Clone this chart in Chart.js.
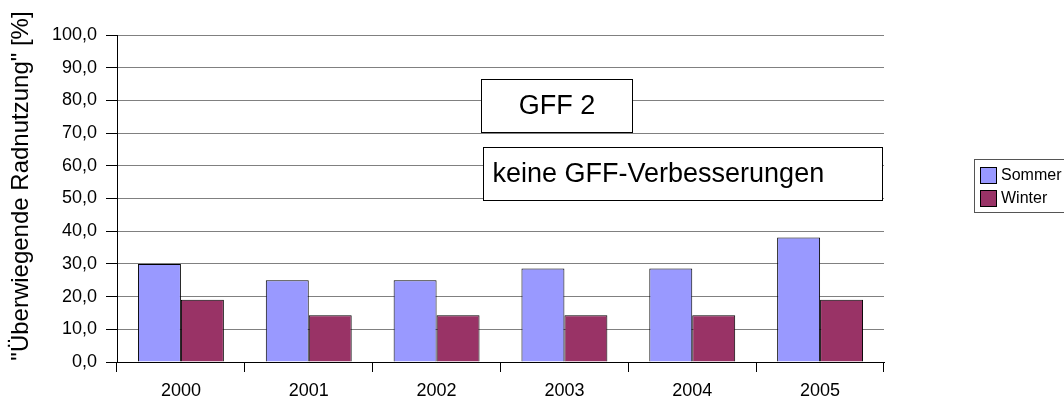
<!DOCTYPE html>
<html>
<head>
<meta charset="utf-8">
<script src="https://cdn.jsdelivr.net/npm/chart.js@4"></script>
<style>
  html, body { margin: 0; padding: 0; background: #fff; }
  #wrap { width: 1064px; height: 404px; }
</style>
</head>
<body>
<div id="wrap"><canvas id="chart" width="1064" height="404"></canvas></div>
<script>
const years = ["2000", "2001", "2002", "2003", "2004", "2005"];
const sommer = [30.0, 25.0, 25.0, 28.6, 28.6, 38.1];
const winter = [19.0, 14.3, 14.3, 14.3, 14.3, 19.0];
const seriesNames = ["Sommer", "Winter"];
const yTicks = [0, 10, 20, 30, 40, 50, 60, 70, 80, 90, 100];
const yTitle = '"Überwiegende Radnutzung" [%]';
const notes = ["GFF 2", "keine GFF-Verbesserungen"];

const FONT = "'Liberation Sans', Arial, sans-serif";

// text boxes, y title and legend drawn on top
const extras = {
  id: "extras",
  afterDraw(chart) {
    const { ctx, scales: { x, y } } = chart;
    ctx.save();

    // y axis title
    ctx.save();
    ctx.translate(21, 186);
    ctx.rotate(-Math.PI / 2);
    ctx.font = "24px " + FONT;
    ctx.fillStyle = "#000";
    ctx.textAlign = "center";
    ctx.textBaseline = "middle";
    ctx.fillText(yTitle, 0, 0);
    ctx.restore();

    // note boxes
    const box = (x0, x1, v0, v1, text, align) => {
      const l = Math.round(x.getPixelForValue(x0)) + 0.5;
      const r = Math.round(x.getPixelForValue(x1)) + 0.5;
      const t = Math.round(y.getPixelForValue(v0)) + 0.5;
      const b = Math.round(y.getPixelForValue(v1)) + 0.5;
      ctx.fillStyle = "#fff";
      ctx.fillRect(l, t, r - l, b - t);
      ctx.strokeStyle = "#000";
      ctx.lineWidth = 1;
      ctx.strokeRect(l, t, r - l, b - t);
      ctx.fillStyle = "#000";
      ctx.font = "27px " + FONT;
      ctx.textBaseline = "middle";
      if (align === "center") {
        ctx.textAlign = "center";
        ctx.fillText(text, (l + r) / 2, (t + b) / 2 + 1);
      } else {
        ctx.textAlign = "left";
        ctx.fillText(text, l + 9, (t + b) / 2 + 1);
      }
    };
    box(2.346, 3.532, 86.5, 70.3, notes[0], "center");
    box(2.362, 5.483, 65.8, 49.5, notes[1], "left");

    // legend
    ctx.strokeStyle = "#555";
    ctx.lineWidth = 1;
    ctx.strokeRect(974.5, 159.5, 100, 53);
    chart.data.datasets.forEach((ds, i) => {
      const sy = 167 + i * 23;
      ctx.fillStyle = ds.backgroundColor;
      ctx.fillRect(980.5, sy + 0.5, 16, 16);
      ctx.strokeStyle = "#000";
      ctx.strokeRect(980.5, sy + 0.5, 16, 16);
      ctx.fillStyle = "#000";
      ctx.font = "16px " + FONT;
      ctx.textAlign = "left";
      ctx.textBaseline = "middle";
      ctx.fillText(ds.label, 1001, sy + 9);
    });

    ctx.restore();
  }
};

new Chart(document.getElementById("chart"), {
  type: "bar",
  data: {
    labels: years,
    datasets: [
      {
        label: seriesNames[0],
        data: sommer,
        backgroundColor: "#9999FF",
        borderColor: "#000",
        borderWidth: 1,
      },
      {
        label: seriesNames[1],
        data: winter,
        backgroundColor: "#993366",
        borderColor: "#000",
        borderWidth: 1,
      },
    ],
  },
  options: {
    responsive: false,
    animation: false,
    layout: { padding: { top: 35, right: 180, left: 0, bottom: 0 } },
    datasets: {
      bar: { categoryPercentage: 0.672, barPercentage: 1.0 },
    },
    plugins: {
      legend: { display: false },
      tooltip: { enabled: false },
    },
    scales: {
      x: {
        offset: true,
        afterFit: (s) => { s.height = 42; },
        grid: {
          offset: true,
          drawOnChartArea: false,
          color: "#000",
          tickLength: 10,
        },
        border: { color: "#000", width: 1 },
        ticks: {
          color: "#000",
          padding: 8,
          font: { family: FONT, size: 18 },
        },
      },
      y: {
        min: 0,
        max: 100,
        afterFit: (s) => { s.width = 117; },
        afterBuildTicks: (s) => { s.ticks = yTicks.map((v) => ({ value: v })); },
        grid: {
          color: "#808080",
          tickColor: "#000",
          tickLength: 11,
        },
        border: { color: "#000", width: 1 },
        ticks: {
          color: "#000",
          padding: 9,
          font: { family: FONT, size: 18 },
          callback: (v) => v.toFixed(1).replace(".", ","),
        },
      },
    },
  },
  plugins: [extras],
});
</script>
</body>
</html>
